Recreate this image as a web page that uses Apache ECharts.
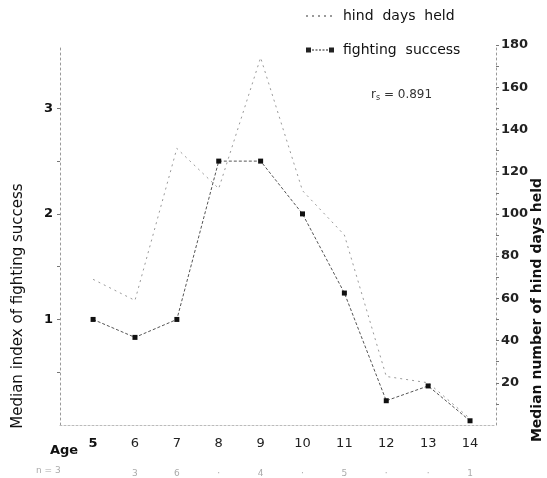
<!DOCTYPE html>
<html>
<head>
<meta charset="utf-8">
<script src="https://cdn.jsdelivr.net/npm/echarts@6/dist/echarts.min.js"></script>
<style>
html,body{margin:0;padding:0;background:#fff;}
#c{width:547px;height:478px;}
</style>
</head>
<body>
<div id="c"></div>
<script>
const ages = [5, 6, 7, 8, 9, 10, 11, 12, 13, 14];
const fightingSuccess = [1.0, 0.83, 1.0, 2.5, 2.5, 2.0, 1.25, 0.23, 0.37, 0.04];
const hindDaysHeld = [69, 59, 131, 112, 174, 111, 90, 23, 20, 3];
const leftTickLabels = [1, 2, 3];
const rightTickLabels = [20, 40, 60, 80, 100, 120, 140, 160, 180];
const sampleSizes = ['', '3', '6', '·', '4', '·', '5', '·', '·', '1'];

const font = 'DejaVu Sans';
const chart = echarts.init(document.getElementById('c'), null, {renderer: 'canvas'});

const option = {
  animation: false,
  backgroundColor: '#fff',
  grid: {left: 60, right: 51, top: 45, bottom: 46},
  legend: {
    orient: 'vertical',
    left: 300,
    top: 4,
    itemGap: 20,
    itemWidth: 28,
    itemHeight: 5,
    textStyle: {fontFamily: font, fontSize: 14, color: '#111', padding: [0, 0, 0, 4]},
    data: [
      {name: 'hind  days  held', itemStyle: {opacity: 0}},
      {name: 'fighting  success', icon: 'path://M0,0h5v5h-5z M23,0h5v5h-5z M6,2h2v1h-2z M9.5,2h2v1h-2z M13,2h2v1h-2z M16.5,2h2v1h-2z M20,2h2v1h-2z', itemStyle: {color: '#222'}}
    ]
  },
  xAxis: {
    type: 'value',
    min: 4.21,
    max: 14.62,
    splitLine: {show: false},
    axisLine: {show: true, lineStyle: {color: '#bbb', width: 1, type: [2, 2]}},
    axisTick: {show: false},
    axisLabel: {
      customValues: ages,
      margin: 12,
      fontFamily: font,
      fontSize: 13,
      color: '#222',
      formatter: function (v) {
        const i = ages.indexOf(v);
        const s = i >= 0 ? sampleSizes[i] : '';
        return (v === 5 ? '{b|' + v + '}' : v) + '\n{n|' + (s || ' ') + '}';
      },
      rich: {
        b: {fontFamily: font, fontSize: 13, fontWeight: 'bold', color: '#111'},
        n: {fontFamily: font, fontSize: 9, color: '#aaa', lineHeight: 28, verticalAlign: 'bottom'}
      }
    }
  },
  yAxis: [
    {
      type: 'value',
      min: 0,
      max: 3.6,
      position: 'left',
      splitLine: {show: false},
      axisLine: {show: true, lineStyle: {color: '#999', width: 1, type: [2, 3]}},
      axisTick: {show: true, customValues: [0.5, 1, 1.5, 2, 2.5, 3], length: 3, lineStyle: {color: '#777'}},
      axisLabel: {customValues: leftTickLabels, margin: 7, fontFamily: font, fontSize: 13, fontWeight: 'bold', color: '#111'}
    },
    {
      type: 'value',
      min: 0,
      max: 180,
      position: 'right',
      splitLine: {show: false},
      axisLine: {show: true, lineStyle: {color: '#999', width: 1, type: [2, 3]}},
      axisTick: {show: true, customValues: [10, 20, 30, 40, 50, 60, 70, 80, 90, 100, 110, 120, 130, 140, 150, 160, 170, 180], length: 3, lineStyle: {color: '#777'}},
      axisLabel: {customValues: rightTickLabels, margin: 5, fontFamily: font, fontSize: 13, fontWeight: 'bold', color: '#222'}
    }
  ],
  series: [
    {
      name: 'hind  days  held',
      type: 'line',
      yAxisIndex: 1,
      data: ages.map((a, i) => [a, hindDaysHeld[i]]),
      symbol: 'none',
      lineStyle: {color: '#9a9a9a', width: 1, type: [2, 4]},
      itemStyle: {color: '#9a9a9a'},
      z: 2
    },
    {
      name: 'fighting  success',
      type: 'line',
      yAxisIndex: 0,
      data: ages.map((a, i) => [a, fightingSuccess[i]]),
      symbol: 'rect',
      symbolSize: 5,
      itemStyle: {color: '#111'},
      lineStyle: {color: '#555', width: 1, type: [3, 2]},
      z: 3
    }
  ],
  graphic: [
    {
      type: 'text', x: 18, y: 306, rotation: Math.PI / 2,
      style: {text: 'Median index of fighting success', fontFamily: font, fontSize: 15, fill: '#111', textAlign: 'center', textVerticalAlign: 'middle'}
    },
    {
      type: 'text', x: 537, y: 310, rotation: Math.PI / 2,
      style: {text: 'Median number of hind days held', fontFamily: font, fontSize: 14, fontWeight: 'bold', fill: '#111', textAlign: 'center', textVerticalAlign: 'middle'}
    },
    {
      type: 'text', x: 50, y: 444,
      style: {text: 'Age', fontFamily: font, fontSize: 13, fontWeight: 'bold', fill: '#111'}
    },
    {
      type: 'text', x: 36, y: 466,
      style: {text: 'n = 3', fontFamily: font, fontSize: 9, fill: '#aaa'}
    },
    {
      type: 'text', x: 371, y: 88,
      style: {
        text: 'r{s|s} = 0.891',
        fontFamily: font, fontSize: 12, fill: '#333',
        rich: {s: {fontFamily: font, fontSize: 8, fill: '#333', verticalAlign: 'bottom', padding: [6, 0, 0, 0]}}
      }
    }
  ]
};
chart.setOption(option);
</script>
</body>
</html>
